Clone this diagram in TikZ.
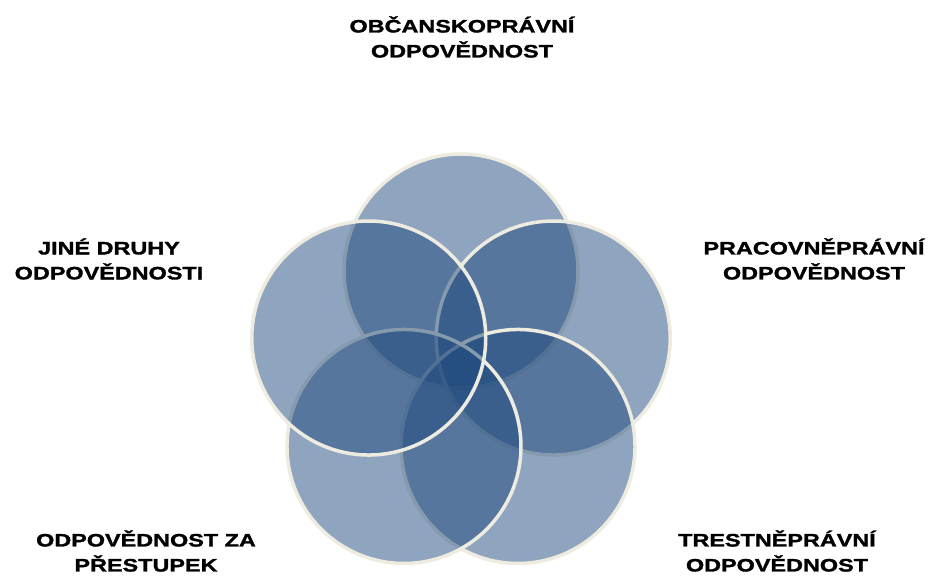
\documentclass[tikz,border=0pt]{standalone}
\usepackage{fontspec}
\newfontfamily\lblfont{Liberation Sans}[FakeStretch=1.3, FakeBold=1.6]
\usepackage{tikz}
\usetikzlibrary{positioning,calc}
\definecolor{circblue}{HTML}{1F497D}
\definecolor{circrim}{HTML}{EEECE1}

\begin{document}
\begin{tikzpicture}[x=1pt, y=1pt]
% Define styles for circles and labels
\tikzstyle{circ} = [circle, draw=circrim, line width=3.5pt, fill=circblue, fill opacity=0.5, draw opacity=1, minimum size=234pt, inner sep=0pt]
\tikzstyle{lbl} = [align=center, font=\lblfont\bfseries\fontsize{18}{25}\selectfont, text=black]

\useasboundingbox (0,0) rectangle (932,576);
\coordinate (mid) at (461,208);

% Place circles clockwise from the top
\node [circ] (civil) at ($(mid)+(90:97)$) {};
\node [circ] (labour) at ($(mid)+(18:97)$) {};
\node [circ] (criminal) at ($(mid)+(-54:97)$) {};
\node [circ] (offence) at ($(mid)+(-126:97)$) {};
\node [circ] (other) at ($(mid)+(162:97)$) {};

% Add labels
\node [lbl] (civiltxt) at (462,539) {OBČANSKOPRÁVNÍ\\ODPOVĚDNOST};
\node [lbl] (labourtxt) at (814,317) {PRACOVNĚPRÁVNÍ\\ODPOVĚDNOST};
\node [lbl] (criminaltxt) at (777,25) {TRESTNĚPRÁVNÍ\\ODPOVĚDNOST};
\node [lbl] (offencetxt) at (146,25) {ODPOVĚDNOST ZA\\PŘESTUPEK};
\node [lbl] (othertxt) at (109,317) {JINÉ DRUHY\\ODPOVĚDNOSTI};

\end{tikzpicture}
\end{document}
